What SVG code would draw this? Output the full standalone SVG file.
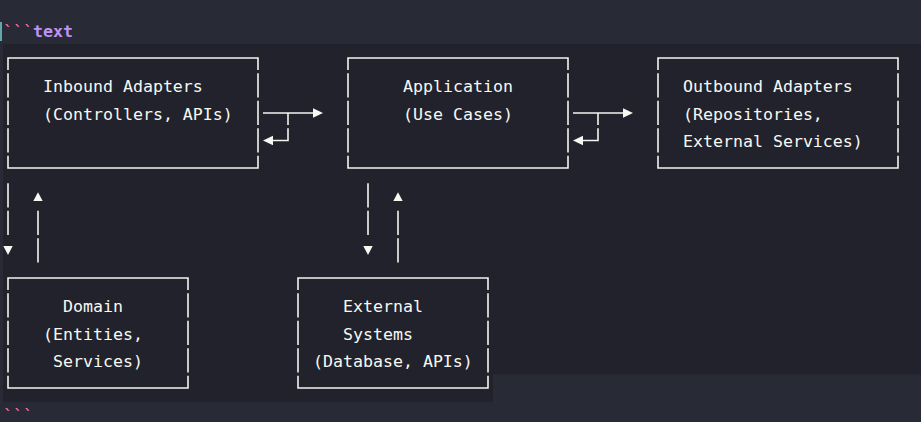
<svg xmlns="http://www.w3.org/2000/svg" width="921" height="422" viewBox="0 0 921 422">
<style>
.t{font-family:"DejaVu Sans Mono","Liberation Mono",monospace;font-size:16.6px;fill:#f8f8f2;white-space:pre}
.ln{fill:none;stroke:#f4f4f0;stroke-width:1.6}
.ah{fill:#f8f8f2}
.tick{font-family:"DejaVu Sans Mono","Liberation Mono",monospace;font-size:16.6px;fill:#ff79c6}
.lang{font-family:"DejaVu Sans Mono","Liberation Mono",monospace;font-size:16.6px;fill:#bd93f9;font-weight:bold}
</style>
<rect x="0" y="0" width="921" height="422" fill="#282a36"/>
<rect x="3" y="44.25" width="918" height="330" fill="#21222c"/>
<rect x="3" y="374.25" width="490" height="27.5" fill="#21222c"/>
<rect x="0" y="22" width="2" height="19" fill="#62a7aa"/>
<g id="fence-open">
<text class="tick" x="3" y="37.3">```</text><text class="lang" x="33" y="37.3">text</text>
</g>
<g id="fence-close">
<text class="tick" x="3" y="421">```</text>
</g>
<g id="inbound">
<path class="ln" d="M7.2 58H258.8M7.2 168H258.8M8 58V69.95M8 73.25V97.45M8 100.75V124.95M8 128.25V152.45M8 155.75V168M258 58V69.95M258 73.25V97.45M258 100.75V124.95M258 128.25V152.45M258 155.75V168"/>
<text class="t" x="43" y="92.3">Inbound Adapters</text>
<text class="t" x="43" y="119.8">(Controllers, APIs)</text>
</g>
<g id="application">
<path class="ln" d="M347.2 58H568.8M347.2 168H568.8M348 58V69.95M348 73.25V97.45M348 100.75V124.95M348 128.25V152.45M348 155.75V168M568 58V69.95M568 73.25V97.45M568 100.75V124.95M568 128.25V152.45M568 155.75V168"/>
<text class="t" x="403" y="92.3">Application</text>
<text class="t" x="403" y="119.8">(Use Cases)</text>
</g>
<g id="outbound">
<path class="ln" d="M657.2 58H898.8M657.2 168H898.8M658 58V69.95M658 73.25V97.45M658 100.75V124.95M658 128.25V152.45M658 155.75V168M898 58V69.95M898 73.25V97.45M898 100.75V124.95M898 128.25V152.45M898 155.75V168"/>
<text class="t" x="683" y="92.3">Outbound Adapters</text>
<text class="t" x="683" y="119.8">(Repositories,</text>
<text class="t" x="683" y="147.3">External Services)</text>
</g>
<g id="domain">
<path class="ln" d="M7.2 278H188.8M7.2 388H188.8M8 278V289.95M8 293.25V317.45M8 320.75V344.95M8 348.25V372.45M8 375.75V388M188 278V289.95M188 293.25V317.45M188 320.75V344.95M188 348.25V372.45M188 375.75V388"/>
<text class="t" x="63" y="312.3">Domain</text>
<text class="t" x="43" y="339.8">(Entities,</text>
<text class="t" x="53" y="367.3">Services)</text>
</g>
<g id="external-systems">
<path class="ln" d="M297.2 278H488.8M297.2 388H488.8M298 278V289.95M298 293.25V317.45M298 320.75V344.95M298 348.25V372.45M298 375.75V388M488 278V289.95M488 293.25V317.45M488 320.75V344.95M488 348.25V372.45M488 375.75V388"/>
<text class="t" x="343" y="312.3">External</text>
<text class="t" x="343" y="339.8">Systems</text>
<text class="t" x="313" y="367.3">(Database, APIs)</text>
</g>
<g id="connectors">
<path class="ln" d="M263 113H313M288 113V124.95M288 128.25V140.5H273"/>
<polygon class="ah" points="313,108.3 323,113 313,117.7"/>
<polygon class="ah" points="273,135.8 263,140.5 273,145.2"/>
<path class="ln" d="M573 113H623M598 113V124.95M598 128.25V140.5H583"/>
<polygon class="ah" points="623,108.3 633,113 623,117.7"/>
<polygon class="ah" points="583,135.8 573,140.5 583,145.2"/>
<path class="ln" d="M8 183.25V207.45M8 210.75V234.95M38 210.75V234.95M38 238.25V262.45"/>
<polygon class="ah" points="3.3,246 12.7,246 8,255"/>
<polygon class="ah" points="38,192.3 42.7,201 33.3,201"/>
<path class="ln" d="M368 183.25V207.45M368 210.75V234.95M398 210.75V234.95M398 238.25V262.45"/>
<polygon class="ah" points="363.3,246 372.7,246 368,255"/>
<polygon class="ah" points="398,192.3 402.7,201 393.3,201"/>
</g>
</svg>
